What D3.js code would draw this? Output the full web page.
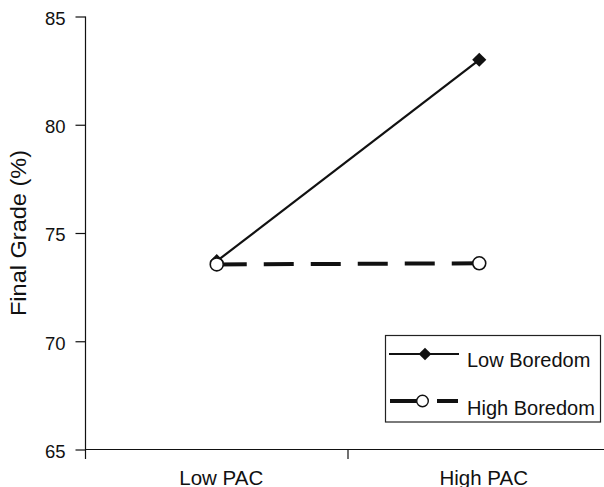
<!DOCTYPE html>
<html><head><meta charset="utf-8">
<script src="https://cdn.jsdelivr.net/npm/d3@7"></script>
<style>body{margin:0;background:#fff}svg{display:block}text{font-family:"Liberation Sans",Arial,sans-serif;fill:#111}</style>
</head><body><svg id="c" width="604" height="487"></svg>
<script>
const categories = ["Low PAC", "High PAC"];
const lowBoredom = [73.7, 83.0];
const highBoredom = [73.55, 73.6];
const yTicks = [65, 70, 75, 80, 85];
const seriesNames = ["Low Boredom", "High Boredom"];
const yTitle = "Final Grade (%)";

const svg = d3.select("#c");
const x = d3.scaleBand().domain(categories).range([85.5, 610.5]);
const y = d3.scaleLinear().domain([65, 85]).range([449.5, 16.5]);
const cx = c => x(c) + x.bandwidth() / 2;

// y axis
const ya = svg.append("g").attr("transform", "translate(85.5,0)")
  .call(d3.axisLeft(y).tickValues(yTicks).tickSize(10).tickPadding(10).tickSizeOuter(0));
ya.select(".domain").remove();
ya.selectAll("line").attr("stroke", "#111").attr("stroke-width", 1.2);
ya.selectAll("text").attr("font-size", 18.5).attr("font-family", "Liberation Sans").attr("fill", "#111")
  .attr("dy", "0.42em");
svg.append("line").attr("x1", 85.5).attr("x2", 85.5).attr("y1", y(85)).attr("y2", y(65) + 9.5)
  .attr("stroke", "#111").attr("stroke-width", 1.2);

// x axis
svg.append("line").attr("x1", 85.5).attr("x2", 610).attr("y1", y(65)).attr("y2", y(65))
  .attr("stroke", "#111").attr("stroke-width", 1.2);
const bounds = categories.map(c => x(c)).concat([x.range()[1]]);
svg.selectAll(".xt").data(bounds.slice(1)).join("line")
  .attr("x1", d => d).attr("x2", d => d).attr("y1", y(65)).attr("y2", y(65) + 9.5)
  .attr("stroke", "#111").attr("stroke-width", 1.2);
svg.selectAll(".xl").data(categories).join("text")
  .attr("x", d => cx(d) + 4.5).attr("y", 484.5).attr("text-anchor", "middle")
  .attr("font-size", 20.5)
  .text(d => d);

// y title
svg.append("text").attr("transform", "translate(25.5," + ((y(65) + y(85)) / 2) + ") rotate(-90)")
  .attr("text-anchor", "middle").attr("font-size", 21.5).attr("textLength", 166)
  .attr("lengthAdjust", "spacingAndGlyphs").text(yTitle);

// series
const line = d3.line().x((d, i) => cx(categories[i])).y(d => y(d));
svg.append("path").datum(lowBoredom).attr("d", line).attr("fill", "none")
  .attr("stroke", "#111").attr("stroke-width", 2.2);
svg.selectAll(".dm").data(lowBoredom).join("path")
  .attr("d", d3.symbol().type(d3.symbolSquare).size(100))
  .attr("transform", (d, i) => `translate(${cx(categories[i])},${y(d)}) rotate(45)`)
  .attr("fill", "#111");
svg.append("path").datum(highBoredom).attr("d", line).attr("fill", "none")
  .attr("stroke", "#111").attr("stroke-width", 4).attr("stroke-dasharray", "30,17");
svg.selectAll(".cm").data(highBoredom).join("circle")
  .attr("cx", (d, i) => cx(categories[i])).attr("cy", d => y(d)).attr("r", 6.5)
  .attr("fill", "#fff").attr("stroke", "#111").attr("stroke-width", 1.6);

// legend
const lg = svg.append("g");
lg.append("rect").attr("x", 385.5).attr("y", 335.5).attr("width", 215).attr("height", 86.5)
  .attr("fill", "#fff").attr("stroke", "#222").attr("stroke-width", 1.2);
lg.append("line").attr("x1", 389).attr("x2", 459).attr("y1", 354).attr("y2", 354)
  .attr("stroke", "#111").attr("stroke-width", 2.2);
lg.append("path").attr("d", d3.symbol().type(d3.symbolSquare).size(80)())
  .attr("transform", "translate(425,354) rotate(45)").attr("fill", "#111");
lg.append("line").attr("x1", 390).attr("x2", 458).attr("y1", 401).attr("y2", 401)
  .attr("stroke", "#111").attr("stroke-width", 4).attr("stroke-dasharray", "27,20,21");
lg.append("circle").attr("cx", 422.5).attr("cy", 401).attr("r", 5.8)
  .attr("fill", "#fff").attr("stroke", "#111").attr("stroke-width", 1.4);
lg.selectAll(".lt").data(seriesNames).join("text")
  .attr("x", 467).attr("y", (d, i) => i === 0 ? 366.5 : 414.5)
  .attr("font-size", 20)
  .text(d => d);
</script></body></html>
